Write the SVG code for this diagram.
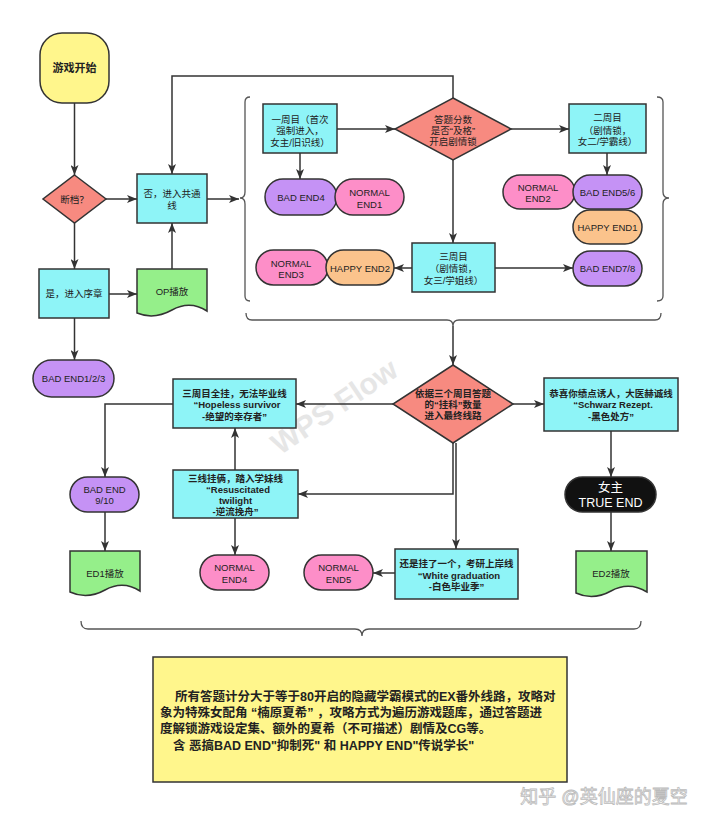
<svg xmlns="http://www.w3.org/2000/svg" width="720" height="826" viewBox="0 0 720 826">
<defs>
<marker id="ah" viewBox="0 0 10 8" refX="10" refY="4" markerWidth="10" markerHeight="8" markerUnits="userSpaceOnUse" orient="auto">
<path d="M0,0 L10,4 L0,8 L2.5,4 Z" fill="#333"/>
</marker>
<style>
.s{stroke:#333;stroke-width:1.5}
.cy{fill:#8ef4f7}
.sa{fill:#f78a80}
.pu{fill:#c592f5}
.pk{fill:#fd8ec8}
.or{fill:#fbc38c}
.gr{fill:#95ef8a}
.ye{fill:#fff68c}
.c{fill:none;stroke:#333;stroke-width:1.5}
.a{marker-end:url(#ah)}
.br{fill:none;stroke:#555;stroke-width:1.3}
text{font-family:"Liberation Sans","Noto Sans CJK SC",sans-serif;font-size:9.5px;fill:#222;text-anchor:middle}
.b{font-weight:bold}
.nt{font-size:12.5px;font-weight:bold;text-anchor:start}
</style>
</defs>
<rect width="720" height="826" fill="#fff"/>

<!-- watermarks -->
<text x="340" y="415" transform="rotate(-34 340 415)" style="font-size:30px;font-weight:bold;fill:#e6e6e6">WPS Flow</text>
<text x="604" y="803" style="font-size:18px;fill:#fff;stroke:#bbb;stroke-width:0.8">知乎 @英仙座的夏空</text>

<!-- connectors -->
<g id="connectors">
<path class="c a" d="M74.5,103 V175"/>
<path class="c a" d="M106,199 H137"/>
<path class="c a" d="M74.5,223 V269"/>
<path class="c a" d="M109,294 H137"/>
<path class="c a" d="M172,269 V223"/>
<path class="c a" d="M74.5,318 V360"/>
<path class="c a" d="M453,98 V76 H172 V174"/>
<path class="c a" d="M207,199 H239"/>
<path class="c a" d="M337,129 H395"/>
<path class="c a" d="M300,153 V179"/>
<path class="c a" d="M511,129 H569"/>
<path class="c a" d="M607,153 V175"/>
<path class="c a" d="M453,160 V243"/>
<path class="c a" d="M495,268 H573"/>
<path class="c a" d="M412,268 H394"/>
<path class="br" d="M250,97 Q245,97 245,102 V192 Q245,198 240,198 Q245,198 245,204 V296 Q245,301 250,301"/>
<path class="br" d="M657,97 Q663,97 663,102 V192 Q663,198 669,198 Q663,198 663,204 V296 Q663,301 657,301"/>
<path class="br" d="M246,313 Q246,320 252,320 H447 Q453,320 453,326 Q453,320 459,320 H655 Q661,320 661,313"/>
<path class="c a" d="M453,326 V365"/>
<path class="c a" d="M393,404 H296"/>
<path class="c a" d="M173,404 H105 V477"/>
<path class="c a" d="M105,512 V551"/>
<path class="c a" d="M235,470 V428"/>
<path class="c a" d="M453,443 V494 H298"/>
<path class="c a" d="M456,443 V549"/>
<path class="c a" d="M235,518 V555"/>
<path class="c a" d="M395,573 H373"/>
<path class="c a" d="M513,404 H544"/>
<path class="c a" d="M611,431 V477"/>
<path class="c a" d="M611,512 V551"/>
<path class="br" d="M81,621 Q81,629 88,629 H355 Q362,629 362,636 Q362,629 369,629 H634 Q641,629 641,621"/>
</g>

<!-- left column -->
<g id="start"><rect class="s ye" x="40" y="33" width="69" height="70" rx="22"/><text class="b" x="74.5" y="72" style="font-size:11px">游戏开始</text></g>
<g id="save"><polygon class="s sa" points="74.5,175 106,199 74.5,223 43,199"/><text x="74.5" y="202.5">断档？</text></g>
<g id="common"><rect class="s cy" x="137" y="174" width="70" height="49"/><text x="172" y="196.5">否，进入共通</text><text x="172" y="208.5">线</text></g>
<g id="prologue"><rect class="s cy" x="39" y="269" width="70" height="49"/><text x="74" y="297">是，进入序章</text></g>
<g id="op"><path class="s gr" d="M137,269 H207 V311 Q190,300 172,310 T137,313 Z"/><text x="172" y="295">OP播放</text></g>
<g id="be123"><rect class="s pu" x="33" y="360" width="81" height="37" rx="18.5"/><text x="73.5" y="382">BAD END1/2/3</text></g>

<!-- upper block -->
<g id="round1"><rect class="s cy" x="263" y="104" width="74" height="49"/><text x="300" y="122.5">一周目（首次</text><text x="300" y="134">强制进入，</text><text x="300" y="145.5">女主/旧识线）</text></g>
<g id="score"><polygon class="s sa" points="453,98 511,129 453,160 395,129"/><text x="453" y="122.5">答题分数</text><text x="453" y="134">是否“及格”</text><text x="453" y="145">开启剧情锁</text></g>
<g id="be4"><rect class="s pu" x="265" y="179" width="72" height="36" rx="18"/><text x="301" y="200.5">BAD END4</text></g>
<g id="ne1"><rect class="s pk" x="335" y="179" width="69" height="36" rx="18"/><text x="369.5" y="195.5">NORMAL</text><text x="369.5" y="207.5">END1</text></g>
<g id="round2"><rect class="s cy" x="569" y="104" width="77" height="49"/><text x="607.5" y="120.5">二周目</text><text x="607.5" y="133.5">（剧情锁，</text><text x="607.5" y="144.5">女二/学霸线）</text></g>
<g id="ne2"><rect class="s pk" x="503" y="175" width="72" height="34" rx="17"/><text x="538" y="190.5">NORMAL</text><text x="538" y="201.5">END2</text></g>
<g id="be56"><rect class="s pu" x="573" y="175" width="69" height="34" rx="17"/><text x="607.5" y="195.5">BAD END5/6</text></g>
<g id="he1"><rect class="s or" x="573" y="210" width="69" height="34" rx="17"/><text x="607.5" y="230.5">HAPPY END1</text></g>
<g id="be78"><rect class="s pu" x="573" y="251" width="69" height="35" rx="17.5"/><text x="607.5" y="271.5">BAD END7/8</text></g>
<g id="round3"><rect class="s cy" x="412" y="243" width="83" height="49"/><text x="453.5" y="259.5">三周目</text><text x="453.5" y="271.5">（剧情锁，</text><text x="453.5" y="283.5">女三/学姐线）</text></g>
<g id="ne3"><rect class="s pk" x="256" y="250" width="72" height="35" rx="17.5"/><text x="291" y="266.5">NORMAL</text><text x="291" y="277.5">END3</text></g>
<g id="he2"><rect class="s or" x="326" y="250" width="68" height="35" rx="17.5"/><text x="360" y="271.5">HAPPY END2</text></g>

<!-- lower block -->
<g id="final"><polygon class="s sa" points="453,365 513,404 453,443 393,404"/><text class="b" x="453" y="396.5">依据三个周目答题</text><text class="b" x="453" y="407.5">的“挂科”数量</text><text class="b" x="453" y="418.5">进入最终线路</text></g>
<g id="hopeless"><rect class="s cy" x="173" y="379" width="123" height="49"/><text class="b" x="234.5" y="396.5">三周目全挂，无法毕业线</text><text class="b" x="237" y="407.5">“Hopeless survivor</text><text class="b" x="234.5" y="419.5">-绝望的幸存者”</text></g>
<g id="be910"><rect class="s pu" x="70" y="477" width="69" height="35" rx="17.5"/><text x="104.5" y="492.5">BAD END</text><text x="104.5" y="503.5">9/10</text></g>
<g id="ed1"><path class="s gr" d="M70,551 H140 V591 Q123,580 105,590 T70,592 Z"/><text x="105" y="576.5">ED1播放</text></g>
<g id="resus"><rect class="s cy" x="173" y="470" width="125" height="48"/><text class="b" x="235.5" y="481.5">三线挂俩，踏入学妹线</text><text class="b" x="238" y="492.5">“Resuscitated</text><text class="b" x="235.5" y="503.5">twilight</text><text class="b" x="235.5" y="514.5">-逆流挽舟”</text></g>
<g id="ne4"><rect class="s pk" x="200" y="555" width="69" height="35" rx="17.5"/><text x="234.5" y="570.5">NORMAL</text><text x="234.5" y="582.5">END4</text></g>
<g id="ne5"><rect class="s pk" x="304" y="555" width="69" height="35" rx="17.5"/><text x="338.5" y="570.5">NORMAL</text><text x="338.5" y="582.5">END5</text></g>
<g id="white"><rect class="s cy" x="395" y="549" width="123" height="50"/><text class="b" x="456.5" y="566.5">还是挂了一个，考研上岸线</text><text class="b" x="459" y="578.5">“White graduation</text><text class="b" x="456.5" y="589.5">-白色毕业季”</text></g>
<g id="schwarz"><rect class="s cy" x="544" y="378" width="134" height="53"/><text class="b" x="611" y="396.5">恭喜你绩点诱人，大医赫诚线</text><text class="b" x="613" y="407.5">“Schwarz Rezept.</text><text class="b" x="611" y="419.5">-黑色处方”</text></g>
<g id="true"><rect x="565" y="477" width="91" height="35" rx="17.5" fill="#111" stroke="#333" stroke-width="1.5"/><text x="610.5" y="491.5" style="font-size:12.5px;fill:#fff">女主</text><text x="610.5" y="506.5" style="font-size:12.5px;fill:#fff">TRUE END</text></g>
<g id="ed2"><path class="s gr" d="M576,551 H647 V592 Q629,581 611,591 T576,593 Z"/><text x="611" y="576.5">ED2播放</text></g>

<!-- note -->
<g id="note"><rect class="s ye" x="153" y="657" width="414" height="125"/>
<text class="nt" x="175" y="701">所有答题计分大于等于80开启的隐藏学霸模式的EX番外线路，攻略对</text>
<text class="nt" x="160" y="717">象为特殊女配角 “楠原夏希” ，攻略方式为遍历游戏题库，通过答题进</text>
<text class="nt" x="160" y="733">度解锁游戏设定集、额外的夏希（不可描述）剧情及CG等。</text>
<text class="nt" x="173" y="750">含 恶搞BAD END"抑制死" 和 HAPPY END"传说学长"</text>
</g>
</svg>
